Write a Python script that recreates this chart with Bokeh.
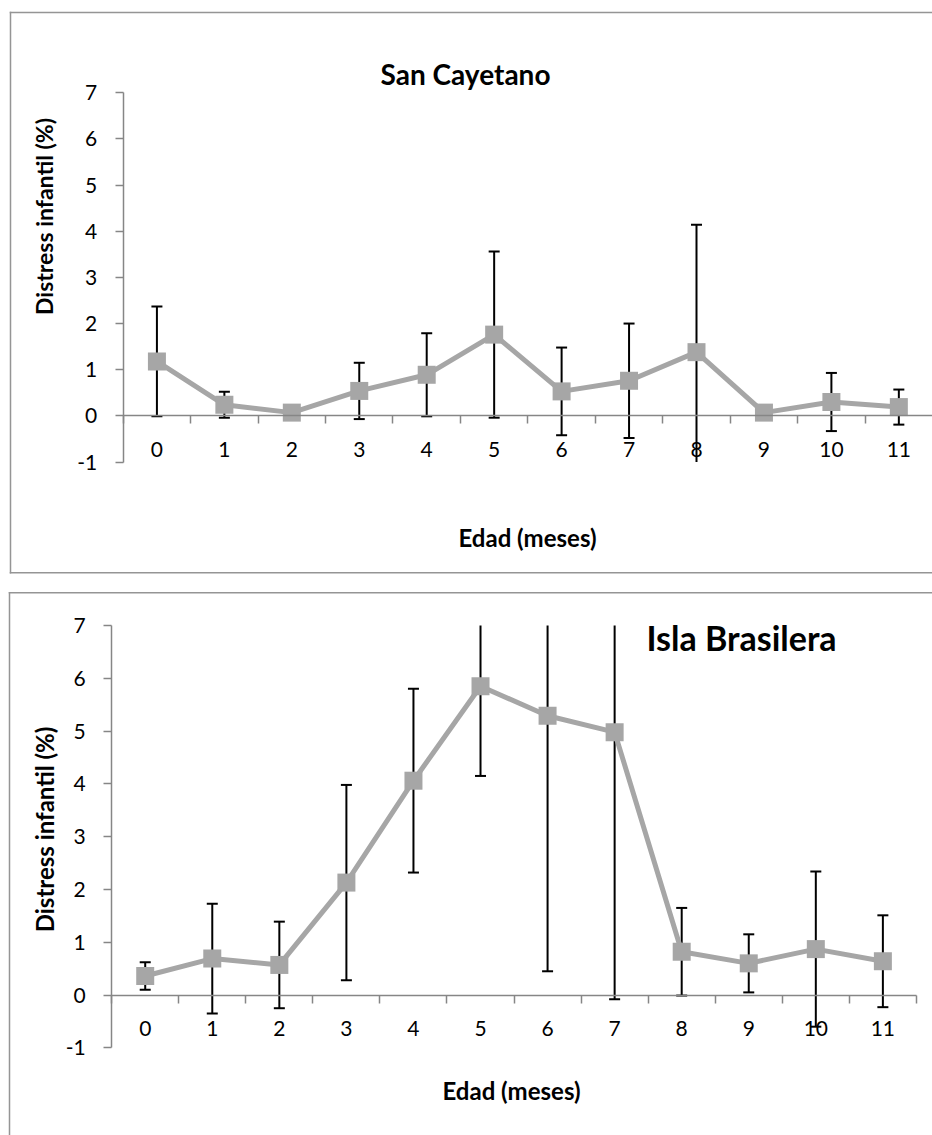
from bokeh.plotting import figure
from bokeh.models import FixedTicker, LinearAxis, Label, Range1d, ColumnDataSource, BoxAnnotation
from bokeh.layouts import column
from bokeh.embed import file_html
from bokeh.resources import INLINE
import math

# ---- data ----
months = list(range(12))
month_labels = [str(m) for m in months]
y_ticks = [-1, 0, 1, 2, 3, 4, 5, 6, 7]
y_labels = ["-1", "0", "1", "2", "3", "4", "5", "6", "7"]

sc_mean = [1.18, 0.24, 0.07, 0.54, 0.89, 1.76, 0.53, 0.76, 1.38, 0.07, 0.30, 0.19]
sc_err = [1.19, 0.28, 0.05, 0.61, 0.90, 1.80, 0.95, 1.24, 2.76, 0.05, 0.63, 0.38]

ib_mean = [0.36, 0.69, 0.57, 2.13, 4.06, 5.85, 5.29, 4.98, 0.82, 0.60, 0.87, 0.64]
ib_err = [0.26, 1.04, 0.82, 1.85, 1.74, 1.70, 4.84, 5.06, 0.83, 0.55, 1.47, 0.87]

titles = ["San Cayetano", "Isla Brasilera"]
x_title = "Edad (meses)"
y_title = "Distress infantil (%)"

GRAY = "#A6A6A6"
AXIS = "#868686"
BORDER = "#959595"
FONT = "Lato"
Y_MIN, Y_MAX = -1, 7
X_MIN, X_MAX = -0.5, 11.5
NAN = float("nan")


def strip(left, right, top, bottom):
    return BoxAnnotation(left=left, right=right, top=top, bottom=bottom,
                         left_units="screen", right_units="screen",
                         top_units="screen", bottom_units="screen",
                         fill_color=BORDER, fill_alpha=1.0, line_color=None)


def panel(mean, err, title, g):
    W, H = g["size"]
    p = figure(width=W, height=H, x_range=Range1d(*g["xr"]), y_range=Range1d(*g["yr"]),
               x_axis_type=None, y_axis_type=None, output_backend="svg",
               toolbar_location=None, min_border=0)
    p.min_border_left = p.min_border_right = p.min_border_top = p.min_border_bottom = 0
    p.outline_line_color = None
    p.background_fill_color = "white"
    p.border_fill_color = "white"

    for s in g["strips"]:
        p.add_layout(strip(*s))

    yax = LinearAxis(ticker=FixedTicker(ticks=y_ticks, minor_ticks=[]),
                     fixed_location=X_MIN, bounds=(Y_MIN, Y_MAX))
    yax.major_label_overrides = {t: lab for t, lab in zip(y_ticks, y_labels)}
    yax.axis_line_color = AXIS
    yax.axis_line_width = 1.5
    yax.major_tick_line_color = AXIS
    yax.major_tick_line_width = 1.5
    yax.major_tick_out = 8
    yax.major_tick_in = 0
    yax.major_label_text_font = FONT
    yax.major_label_text_font_size = "21px"
    yax.major_label_text_color = "black"
    yax.major_label_standoff = 18
    p.add_layout(yax, "left")

    bounds = [m - 0.5 for m in months] + [months[-1] + 0.5]
    xax = LinearAxis(ticker=FixedTicker(ticks=months, minor_ticks=bounds),
                     fixed_location=0, bounds=(X_MIN, X_MAX))
    xax.major_label_overrides = {m: lab for m, lab in zip(months, month_labels)}
    xax.axis_line_color = AXIS
    xax.axis_line_width = 1.5
    xax.major_tick_out = 0
    xax.major_tick_in = 0
    xax.minor_tick_out = 8
    xax.minor_tick_in = 0
    xax.minor_tick_line_color = AXIS
    xax.minor_tick_line_width = 1.5
    xax.major_label_text_font = FONT
    xax.major_label_text_font_size = "21px"
    xax.major_label_text_color = "black"
    xax.major_label_standoff = 18
    p.add_layout(xax, "below")

    # error bars clipped to the plotting area (-1..7), caps hidden where clipped
    lo = [m - e for m, e in zip(mean, err)]
    hi = [m + e for m, e in zip(mean, err)]
    src = ColumnDataSource(dict(
        x=months, y=mean,
        lo=[max(v, Y_MIN) for v in lo], hi=[min(v, Y_MAX) for v in hi],
        lo_cap=[v if v >= Y_MIN else NAN for v in lo],
        hi_cap=[v if v <= Y_MAX else NAN for v in hi],
    ))

    p.segment(x0="x", y0="lo", x1="x", y1="hi", source=src, line_color="black", line_width=2)
    p.scatter(x="x", y="hi_cap", source=src, marker="dash", size=11, line_color="black", line_width=2)
    p.scatter(x="x", y="lo_cap", source=src, marker="dash", size=11, line_color="black", line_width=2)
    p.line(x="x", y="y", source=src, line_color=GRAY, line_width=5)
    p.scatter(x="x", y="y", source=src, marker="square", size=18, fill_color=GRAY, line_color=None)

    tx, ty, ts = g["title"]
    p.add_layout(Label(x=tx, y=ty, x_units="screen", y_units="screen", text=title,
                       text_font=FONT, text_font_style="bold", text_font_size=ts,
                       text_align="center", text_baseline="middle", text_color="black"))
    yx, yy, ys = g["ytitle"]
    p.add_layout(Label(x=yx, y=yy, x_units="screen", y_units="screen", text=y_title,
                       angle=math.pi / 2, text_font=FONT, text_font_style="bold",
                       text_font_size=ys, text_align="center", text_baseline="middle",
                       text_color="black"))
    xx, xy = g["xtitle"]
    p.add_layout(Label(x=xx, y=xy, x_units="screen", y_units="screen", text=x_title,
                       text_font=FONT, text_font_style="bold", text_font_size="24px",
                       text_align="center", text_baseline="middle", text_color="black"))
    return p


p1 = panel(sc_mean, sc_err, titles[0], {
    "size": (932, 582),
    "xr": (-2.3191, 11.499), "yr": (-3.611, 9.0),
    "strips": [(9.25, 10.75, 570.75, 9.0),
               (9.25, 5000, 570.75, 569.25),
               (9.25, 5000, 10.5, 9.0)],
    "title": (465, 509, "28px"),
    "ytitle": (43, 366, "23px"),
    "xtitle": (527, 45),
})

p2 = panel(ib_mean, ib_err, titles[1], {
    "size": (932, 553),
    "xr": (-2.158, 11.74), "yr": (-2.661, 7.8146),
    "strips": [(8.25, 9.75, 543.5, -100),
               (8.25, 5000, 543.5, 542.0)],
    "title": (741, 498, "34px"),
    "ytitle": (44, 306, "24px"),
    "xtitle": (511, 45),
})

layout = column(p1, p2, spacing=0)
open("out.html", "w").write(file_html(layout, INLINE))
